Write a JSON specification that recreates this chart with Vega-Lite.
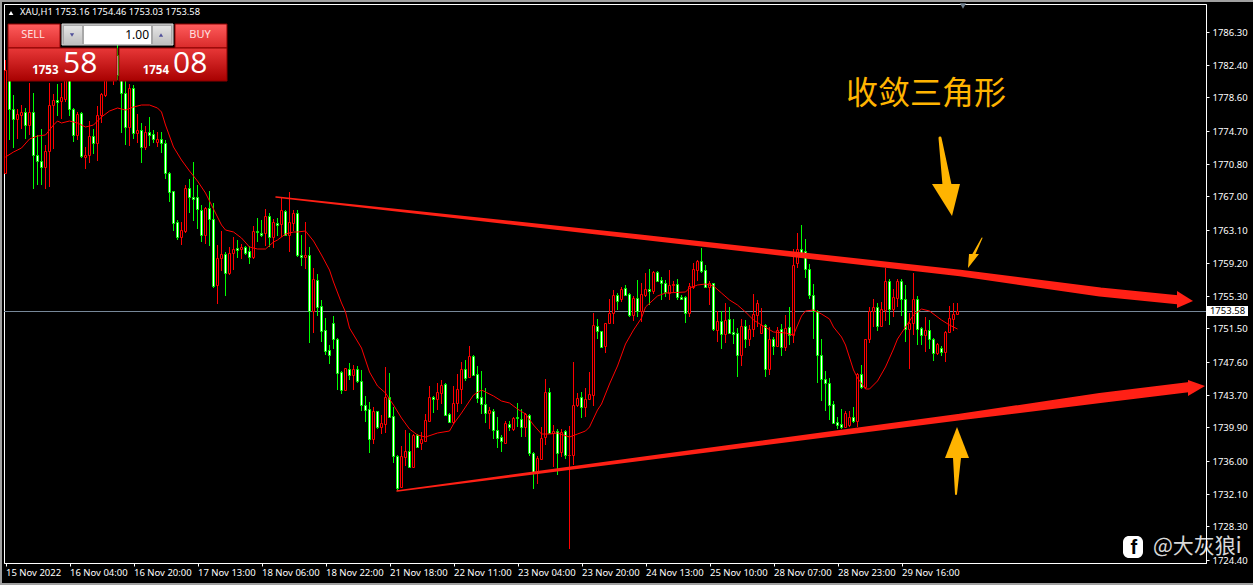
{"$schema":"https://vega.github.io/schema/vega-lite/v6.json","autosize":"none","padding":{"left":4,"top":4,"right":47,"bottom":22},"width":1202,"height":559,"background":"#000000","config":{"view":{"stroke":"#ffffff","strokeWidth":1,"fill":"#000000"},"font":"Noto Sans"},
"datasets":{"candles":[
{"i":0,"o":1769.76,"h":1783,"l":1769.76,"c":1781.8},{"i":1,"o":1781.8,"h":1783,"l":1773.59,"c":1777.26},{"i":2,"o":1777.26,"h":1778.87,"l":1772.65,"c":1776.02},{"i":3,"o":1776.09,"h":1777.19,"l":1773.67,"c":1776.6},{"i":4,"o":1776.56,"h":1777.66,"l":1774.92,"c":1776.84},{"i":5,"o":1776.84,"h":1777.34,"l":1773.67,"c":1775.31},{"i":6,"o":1775.31,"h":1780.24,"l":1774.14,"c":1776.84},{"i":7,"o":1776.84,"h":1779.07,"l":1767.88,"c":1771.8},{"i":8,"o":1771.8,"h":1774.18,"l":1768.35,"c":1771.1},{"i":9,"o":1771.1,"h":1774.85,"l":1768.28,"c":1770.39},
{"i":10,"o":1770.46,"h":1772.97,"l":1767.88,"c":1772.27},{"i":11,"o":1772.27,"h":1780.24,"l":1768.12,"c":1777.66},{"i":12,"o":1777.66,"h":1778.98,"l":1772.5,"c":1778.24},{"i":13,"o":1778.28,"h":1780.16,"l":1776.4,"c":1778.08},{"i":14,"o":1778.13,"h":1780.24,"l":1776.02,"c":1778.6},{"i":15,"o":1778.36,"h":1781.8,"l":1778.05,"c":1781.21},{"i":16,"o":1781.8,"h":1782.97,"l":1776.4,"c":1777.26},{"i":17,"o":1777.19,"h":1777.34,"l":1773.36,"c":1774.21},{"i":18,"o":1774.21,"h":1776.91,"l":1773.59,"c":1776.64},{"i":19,"o":1776.72,"h":1776.87,"l":1771.48,"c":1771.72},
{"i":20,"o":1771.6,"h":1772.81,"l":1770.23,"c":1771.8},{"i":21,"o":1771.8,"h":1775.78,"l":1770.86,"c":1774.06},{"i":22,"o":1774.06,"h":1774.85,"l":1771.95,"c":1773.28},{"i":23,"o":1773.28,"h":1777.58,"l":1771.17,"c":1776.49},{"i":24,"o":1776.56,"h":1779.07,"l":1775.62,"c":1778.98},{"i":25,"o":1778.9,"h":1782.03,"l":1778.6,"c":1781.21},{"i":26,"o":1781.21,"h":1784.14,"l":1780.62,"c":1783.55},{"i":27,"o":1780.86,"h":1784.14,"l":1780.04,"c":1782.97},{"i":28,"o":1783.55,"h":1784.73,"l":1780.62,"c":1781.21},{"i":29,"o":1781.8,"h":1782.97,"l":1774.45,"c":1779.07},
{"i":30,"o":1779.07,"h":1780.62,"l":1773.04,"c":1775.15},{"i":31,"o":1775.15,"h":1780.16,"l":1772.89,"c":1779.69},{"i":32,"o":1779.69,"h":1780.04,"l":1773.67,"c":1774.45},{"i":33,"o":1774.45,"h":1776.64,"l":1773.21,"c":1774.76},{"i":34,"o":1774.76,"h":1775.62,"l":1770.86,"c":1772.81},{"i":35,"o":1772.81,"h":1775.23,"l":1772.42,"c":1774.53},{"i":36,"o":1774.53,"h":1776.32,"l":1772.89,"c":1774.21},{"i":37,"o":1774.3,"h":1774.76,"l":1773.28,"c":1773.74},{"i":38,"o":1773.39,"h":1774.56,"l":1772.74,"c":1773.67},{"i":39,"o":1773.71,"h":1774.56,"l":1772.07,"c":1773.21},
{"i":40,"o":1773.21,"h":1773.59,"l":1769.06,"c":1769.69},{"i":41,"o":1769.69,"h":1769.84,"l":1766.33,"c":1767.46},{"i":42,"o":1767.58,"h":1767.61,"l":1762.96,"c":1763.83},{"i":43,"o":1763.98,"h":1764.22,"l":1761.87,"c":1762.26},{"i":44,"o":1762.19,"h":1763.98,"l":1761.32,"c":1763.04},{"i":45,"o":1762.89,"h":1768.32,"l":1762.66,"c":1767.97},{"i":46,"o":1767.93,"h":1769.02,"l":1765.07,"c":1766.88},{"i":47,"o":1766.91,"h":1771.01,"l":1764.06,"c":1766.71},{"i":48,"o":1766.88,"h":1768.32,"l":1763.2,"c":1765.47},{"i":49,"o":1765.39,"h":1765.97,"l":1761.64,"c":1762.49},
{"i":50,"o":1762.49,"h":1765.77,"l":1761.4,"c":1765.62},{"i":51,"o":1765.59,"h":1767.58,"l":1761.17,"c":1764.3},{"i":52,"o":1764.3,"h":1766.17,"l":1756.25,"c":1756.48},{"i":53,"o":1756.56,"h":1761.29,"l":1754.37,"c":1759.73},{"i":54,"o":1759.73,"h":1762.89,"l":1758.2,"c":1760.2},{"i":55,"o":1760.23,"h":1760.47,"l":1755.31,"c":1758.04},{"i":56,"o":1758.04,"h":1761.09,"l":1757.73,"c":1760.31},{"i":57,"o":1760.31,"h":1762.26,"l":1758.36,"c":1760.78},{"i":58,"o":1760.9,"h":1761.87,"l":1759.76,"c":1760.74},{"i":59,"o":1760.78,"h":1761.4,"l":1759.68,"c":1761.02},
{"i":60,"o":1761.02,"h":1761.17,"l":1760.15,"c":1760.31},{"i":61,"o":1760.55,"h":1761.17,"l":1759.06,"c":1759.91},{"i":62,"o":1759.91,"h":1763.51,"l":1759.68,"c":1762.89},{"i":63,"o":1762.89,"h":1764.42,"l":1761.64,"c":1762.77},{"i":64,"o":1762.66,"h":1764.22,"l":1762.19,"c":1762.49},{"i":65,"o":1762.66,"h":1765.47,"l":1761.17,"c":1764.68},{"i":66,"o":1764.68,"h":1765,"l":1761.09,"c":1762.26},{"i":67,"o":1762.26,"h":1764.3,"l":1760.93,"c":1763.98},{"i":68,"o":1763.83,"h":1764.45,"l":1762.34,"c":1763.67},{"i":69,"o":1763.75,"h":1766.88,"l":1762.19,"c":1765.39},
{"i":70,"o":1765.24,"h":1765.39,"l":1762.34,"c":1762.49},{"i":71,"o":1762.49,"h":1767.5,"l":1760.47,"c":1763.98},{"i":72,"o":1763.9,"h":1765.39,"l":1762.89,"c":1765},{"i":73,"o":1765,"h":1765.39,"l":1759.91,"c":1760.15},{"i":74,"o":1760.08,"h":1762.46,"l":1758.82,"c":1759.84},{"i":75,"o":1759.84,"h":1763.98,"l":1758.51,"c":1760.08},{"i":76,"o":1760.08,"h":1761.02,"l":1749.84,"c":1753.52},{"i":77,"o":1753.52,"h":1758.59,"l":1751.01,"c":1757.27},{"i":78,"o":1757.18,"h":1757.89,"l":1752.96,"c":1754.05},{"i":79,"o":1754.14,"h":1754.84,"l":1749.92,"c":1751.17},
{"i":80,"o":1751.32,"h":1752.73,"l":1748.43,"c":1748.9},{"i":81,"o":1748.98,"h":1749.53,"l":1747.34,"c":1748.36},{"i":82,"o":1752.11,"h":1752.96,"l":1749.13,"c":1750.23},{"i":83,"o":1750.23,"h":1750.39,"l":1744.29,"c":1746.25},{"i":84,"o":1746.4,"h":1746.52,"l":1743.82,"c":1744.29},{"i":85,"o":1744.29,"h":1746.87,"l":1744.14,"c":1746.84},{"i":86,"o":1746.72,"h":1747.42,"l":1745.46,"c":1746.02},{"i":87,"o":1746.09,"h":1747.19,"l":1744.29,"c":1746.72},{"i":88,"o":1746.72,"h":1747.1,"l":1745.08,"c":1745.38},{"i":89,"o":1745.31,"h":1746.64,"l":1741.87,"c":1742.57},
{"i":90,"o":1742.5,"h":1743.59,"l":1740.54,"c":1741.95},{"i":91,"o":1742.03,"h":1742.89,"l":1736.94,"c":1738.51},{"i":92,"o":1738.51,"h":1742.26,"l":1737.96,"c":1741.8},{"i":93,"o":1741.8,"h":1741.83,"l":1739.76,"c":1739.99},{"i":94,"o":1739.99,"h":1741.4,"l":1739.14,"c":1740.39},{"i":95,"o":1740.31,"h":1746.95,"l":1739.29,"c":1743.44},{"i":96,"o":1743.44,"h":1746.25,"l":1741.01,"c":1741.16},{"i":97,"o":1741.24,"h":1742.3,"l":1735.77,"c":1736.56},{"i":98,"o":1736.56,"h":1736.67,"l":1732.49,"c":1732.81},{"i":99,"o":1732.89,"h":1737.73,"l":1732.81,"c":1736.56},
{"i":100,"o":1736.48,"h":1739.6,"l":1735.38,"c":1737.11},{"i":101,"o":1737.11,"h":1739.22,"l":1735.3,"c":1735.3},{"i":102,"o":1735.3,"h":1739.14,"l":1735.3,"c":1739.05},{"i":103,"o":1738.98,"h":1739.14,"l":1737.58,"c":1737.65},{"i":104,"o":1738.12,"h":1739.37,"l":1737.26,"c":1738.51},{"i":105,"o":1738.35,"h":1741.48,"l":1738.28,"c":1740.78},{"i":106,"o":1740.62,"h":1744.76,"l":1740.54,"c":1743.44},{"i":107,"o":1743.47,"h":1743.59,"l":1741.56,"c":1743.2},{"i":108,"o":1743.2,"h":1745.15,"l":1741.95,"c":1744.06},{"i":109,"o":1743.98,"h":1745.46,"l":1742.65,"c":1744.84},
{"i":110,"o":1744.99,"h":1745.08,"l":1741.33,"c":1741.4},{"i":111,"o":1741.44,"h":1741.56,"l":1740.46,"c":1740.54},{"i":112,"o":1740.54,"h":1744.76,"l":1740.31,"c":1742.73},{"i":113,"o":1742.8,"h":1746.17,"l":1741.71,"c":1744.37},{"i":114,"o":1744.37,"h":1747.61,"l":1742.65,"c":1746.72},{"i":115,"o":1746.72,"h":1747.81,"l":1745.38,"c":1745.7},{"i":116,"o":1745.78,"h":1749.45,"l":1745.78,"c":1748.28},{"i":117,"o":1748.28,"h":1748.39,"l":1746.02,"c":1746.09},{"i":118,"o":1746.17,"h":1747.1,"l":1742.8,"c":1743.35},{"i":119,"o":1743.51,"h":1746.55,"l":1741.48,"c":1742.65},
{"i":120,"o":1742.65,"h":1744.53,"l":1740.39,"c":1741.56},{"i":121,"o":1741.63,"h":1742.26,"l":1739.69,"c":1741.95},{"i":122,"o":1741.8,"h":1742.03,"l":1738.58,"c":1739.6},{"i":123,"o":1739.6,"h":1741.13,"l":1737.49,"c":1738.67},{"i":124,"o":1738.75,"h":1739.05,"l":1737.03,"c":1738.28},{"i":125,"o":1738.12,"h":1740.62,"l":1738.05,"c":1740.39},{"i":126,"o":1740.31,"h":1740.69,"l":1739.45,"c":1739.99},{"i":127,"o":1739.76,"h":1741.16,"l":1739.45,"c":1741.01},{"i":128,"o":1741.09,"h":1742.73,"l":1739.99,"c":1741.01},{"i":129,"o":1740.93,"h":1742.03,"l":1738.75,"c":1739.92},
{"i":130,"o":1739.99,"h":1741.63,"l":1738.82,"c":1741.48},{"i":131,"o":1741.4,"h":1741.48,"l":1736.56,"c":1736.94},{"i":132,"o":1736.94,"h":1737.03,"l":1732.65,"c":1734.68},{"i":133,"o":1734.6,"h":1736.56,"l":1733.28,"c":1736.32},{"i":134,"o":1736.24,"h":1739.99,"l":1736.17,"c":1738.67},{"i":135,"o":1738.75,"h":1745.55,"l":1737.88,"c":1744.06},{"i":136,"o":1744.06,"h":1744.53,"l":1739.22,"c":1739.29},{"i":137,"o":1739.31,"h":1740.19,"l":1735.3,"c":1739.45},{"i":138,"o":1739.45,"h":1739.76,"l":1734.37,"c":1736.94},{"i":139,"o":1737.03,"h":1739.69,"l":1736.4,"c":1739.37},
{"i":140,"o":1739.45,"h":1739.6,"l":1736.24,"c":1736.64},{"i":141,"o":1736.64,"h":1740.07,"l":1725.66,"c":1736.71},{"i":142,"o":1736.71,"h":1747.57,"l":1735.47,"c":1742.5},{"i":143,"o":1742.5,"h":1743.98,"l":1742.33,"c":1743.35},{"i":144,"o":1743.44,"h":1744.06,"l":1741.01,"c":1742.26},{"i":145,"o":1742.26,"h":1744.53,"l":1741.16,"c":1743.2},{"i":146,"o":1743.2,"h":1746.4,"l":1743.12,"c":1743.82},{"i":147,"o":1743.74,"h":1753.35,"l":1742.42,"c":1751.88},{"i":148,"o":1751.79,"h":1752.58,"l":1750.23,"c":1751.17},{"i":149,"o":1751.17,"h":1751.21,"l":1749.21,"c":1749.37},
{"i":150,"o":1749.45,"h":1752.14,"l":1748.66,"c":1752.11},{"i":151,"o":1752.11,"h":1754.92,"l":1752.09,"c":1753.28},{"i":152,"o":1753.28,"h":1756.01,"l":1752.03,"c":1755.39},{"i":153,"o":1755.39,"h":1755.63,"l":1753.67,"c":1754.76},{"i":154,"o":1754.92,"h":1756.33,"l":1754.61,"c":1756.09},{"i":155,"o":1756.21,"h":1756.63,"l":1755.39,"c":1755.46},{"i":156,"o":1755.54,"h":1755.7,"l":1752.88,"c":1753.05},{"i":157,"o":1753.05,"h":1755.31,"l":1752.41,"c":1755.07},{"i":158,"o":1755.07,"h":1757.18,"l":1752.88,"c":1753.59},{"i":159,"o":1753.59,"h":1756.8,"l":1752.26,"c":1755.54},
{"i":160,"o":1755.46,"h":1758.04,"l":1755.16,"c":1756.09},{"i":161,"o":1756.09,"h":1758.44,"l":1754.29,"c":1755.93},{"i":162,"o":1755.93,"h":1758.27,"l":1755.54,"c":1758.12},{"i":163,"o":1758.12,"h":1758.2,"l":1756.95,"c":1757.1},{"i":164,"o":1757.15,"h":1757.57,"l":1754.84,"c":1756.8},{"i":165,"o":1756.8,"h":1757.18,"l":1755.16,"c":1755.78},{"i":166,"o":1755.7,"h":1758.36,"l":1754.84,"c":1756.56},{"i":167,"o":1756.56,"h":1757.1,"l":1755.78,"c":1756.72},{"i":168,"o":1756.72,"h":1757.27,"l":1754.84,"c":1755.16},{"i":169,"o":1755.16,"h":1755.46,"l":1754.84,"c":1754.99},
{"i":170,"o":1755.16,"h":1755.31,"l":1752.18,"c":1753.35},{"i":171,"o":1753.35,"h":1756.87,"l":1752.88,"c":1756.48},{"i":172,"o":1756.4,"h":1759.21,"l":1756.16,"c":1758.44},{"i":173,"o":1758.36,"h":1759.53,"l":1757.1,"c":1759.38},{"i":174,"o":1759.38,"h":1760.93,"l":1758.04,"c":1758.27},{"i":175,"o":1758.36,"h":1758.91,"l":1756.33,"c":1756.4},{"i":176,"o":1756.4,"h":1757.03,"l":1754.22,"c":1756.8},{"i":177,"o":1756.8,"h":1756.83,"l":1751.24,"c":1751.48},{"i":178,"o":1751.32,"h":1753.52,"l":1749.92,"c":1752.34},{"i":179,"o":1752.34,"h":1753.59,"l":1749.06,"c":1750.85},
{"i":180,"o":1750.85,"h":1754.45,"l":1749.84,"c":1752.5},{"i":181,"o":1752.58,"h":1753.98,"l":1750.94,"c":1751.01},{"i":182,"o":1751.09,"h":1752.58,"l":1749.68,"c":1750.85},{"i":183,"o":1750.94,"h":1751.56,"l":1745.85,"c":1748.36},{"i":184,"o":1748.36,"h":1752.65,"l":1747.1,"c":1751.79},{"i":185,"o":1751.79,"h":1752.5,"l":1749.21,"c":1750.3},{"i":186,"o":1750.3,"h":1751.95,"l":1749.45,"c":1751.48},{"i":187,"o":1751.41,"h":1755.54,"l":1750.54,"c":1753.2},{"i":188,"o":1753.12,"h":1754.84,"l":1751.71,"c":1754.45},{"i":189,"o":1750.94,"h":1753.9,"l":1750.85,"c":1751.88},
{"i":190,"o":1751.88,"h":1752.03,"l":1745.85,"c":1746.79},{"i":191,"o":1746.79,"h":1751.71,"l":1746.08,"c":1750.23},{"i":192,"o":1750.23,"h":1750.54,"l":1748.43,"c":1749.45},{"i":193,"o":1749.45,"h":1751.64,"l":1749.37,"c":1751.32},{"i":194,"o":1751.41,"h":1752.03,"l":1748.28,"c":1749.3},{"i":195,"o":1749.37,"h":1753.05,"l":1748.83,"c":1751.56},{"i":196,"o":1751.64,"h":1753.98,"l":1749.6,"c":1750.7},{"i":197,"o":1750.7,"h":1760.82,"l":1749.84,"c":1758.98},{"i":198,"o":1759.14,"h":1762.66,"l":1758.55,"c":1760.78},{"i":199,"o":1760.78,"h":1763.59,"l":1760.31,"c":1760.38},
{"i":200,"o":1760.55,"h":1761.95,"l":1757.42,"c":1758.44},{"i":201,"o":1758.44,"h":1759.06,"l":1754.92,"c":1755.46},{"i":202,"o":1755.46,"h":1756.72,"l":1750.3,"c":1753.52},{"i":203,"o":1753.52,"h":1753.67,"l":1745.15,"c":1748.43},{"i":204,"o":1748.43,"h":1750.23,"l":1743.04,"c":1745.55},{"i":205,"o":1745.55,"h":1746.55,"l":1741.87,"c":1745.08},{"i":206,"o":1745.08,"h":1745.7,"l":1740.78,"c":1742.57},{"i":207,"o":1742.65,"h":1742.97,"l":1740.39,"c":1740.46},{"i":208,"o":1740.54,"h":1741.09,"l":1739.69,"c":1740.23},{"i":209,"o":1740.27,"h":1742.03,"l":1739.69,"c":1739.92},
{"i":210,"o":1739.92,"h":1741.8,"l":1739.84,"c":1741.56},{"i":211,"o":1740.16,"h":1741.87,"l":1739.92,"c":1741.09},{"i":212,"o":1741.09,"h":1742.34,"l":1740.39,"c":1740.69},{"i":213,"o":1740.69,"h":1746.32,"l":1739.92,"c":1746.17},{"i":214,"o":1746.17,"h":1747.19,"l":1744.37,"c":1744.68},{"i":215,"o":1744.68,"h":1750.3,"l":1744.44,"c":1750.23},{"i":216,"o":1750.23,"h":1753.98,"l":1749.84,"c":1753.59},{"i":217,"o":1753.59,"h":1754.92,"l":1751.71,"c":1753.98},{"i":218,"o":1753.98,"h":1754.45,"l":1751.24,"c":1751.79},{"i":219,"o":1751.79,"h":1754.61,"l":1751.64,"c":1753.75},
{"i":220,"o":1753.67,"h":1758.59,"l":1752.41,"c":1757.03},{"i":221,"o":1757.1,"h":1757.34,"l":1751.95,"c":1753.82},{"i":222,"o":1753.82,"h":1756.09,"l":1752.88,"c":1755.16},{"i":223,"o":1755.07,"h":1757.27,"l":1754.05,"c":1757.1},{"i":224,"o":1757.1,"h":1757.27,"l":1752.96,"c":1754.92},{"i":225,"o":1754.92,"h":1756.56,"l":1749.92,"c":1751.48},{"i":226,"o":1751.48,"h":1753.28,"l":1746.79,"c":1752.11},{"i":227,"o":1752.11,"h":1758.04,"l":1750.77,"c":1754.99},{"i":228,"o":1754.99,"h":1755.31,"l":1749.6,"c":1751.48},{"i":229,"o":1751.56,"h":1751.64,"l":1749.53,"c":1750.77},
{"i":230,"o":1750.77,"h":1752.88,"l":1748.75,"c":1751.32},{"i":231,"o":1751.32,"h":1752.5,"l":1749.06,"c":1750.23},{"i":232,"o":1750.23,"h":1750.39,"l":1747.73,"c":1748.59},{"i":233,"o":1748.59,"h":1749.84,"l":1748.36,"c":1749.68},{"i":234,"o":1749.21,"h":1749.45,"l":1748.28,"c":1748.75},{"i":235,"o":1748.75,"h":1751.17,"l":1747.57,"c":1751.09},{"i":236,"o":1751.09,"h":1754.14,"l":1751.01,"c":1752.73},{"i":237,"o":1752.65,"h":1754.45,"l":1751.17,"c":1753.2},{"i":238,"o":1753.16,"h":1754.46,"l":1753.03,"c":1753.58}
],
"ma":[{"i":0,"p":1771.6},{"i":2,"p":1772.19},{"i":4,"p":1772.65},{"i":6,"p":1773.67},{"i":8,"p":1774.06},{"i":10,"p":1774.14},{"i":12,"p":1775.39},{"i":13,"p":1775.78},{"i":14,"p":1775.62},{"i":16,"p":1775.78},{"i":18,"p":1775.62},{"i":20,"p":1775.08},{"i":22,"p":1775.31},{"i":24,"p":1776.32},{"i":26,"p":1776.96},{"i":28,"p":1777.38},{"i":30,"p":1777.11},{"i":32,"p":1777.42},{"i":34,"p":1777.66},{"i":36,"p":1777.73},{"i":38,"p":1777.34},{"i":39,"p":1776.87},{"i":40,"p":1775.35},{"i":42,"p":1772.77},{"i":44,"p":1771.25},{"i":46,"p":1769.96},{"i":48,"p":1768.79},{"i":50,"p":1767.38},{"i":52,"p":1765.5},{"i":54,"p":1763.63},{"i":55,"p":1763.04},{"i":57,"p":1762.81},{"i":59,"p":1762.11},{"i":61,"p":1761.09},{"i":63,"p":1760.82},{"i":65,"p":1760.78},{"i":67,"p":1761.64},{"i":68,"p":1761.87},{"i":70,"p":1762.58},{"i":72,"p":1762.81},{"i":73,"p":1762.77},{"i":75,"p":1762.89},{"i":77,"p":1761.75},{"i":79,"p":1760.11},{"i":81,"p":1758.36},{"i":82,"p":1756.95},{"i":84,"p":1754.49},{"i":85,"p":1753.43},{"i":86,"p":1751.56},{"i":89,"p":1749.21},{"i":90,"p":1747.81},{"i":91,"p":1746.4},{"i":93,"p":1744.76},{"i":95,"p":1743.94},{"i":97,"p":1742.53},{"i":99,"p":1741.01},{"i":101,"p":1739.72},{"i":103,"p":1739.02},{"i":105,"p":1738.78},{"i":108,"p":1739.25},{"i":111,"p":1739.49},{"i":112,"p":1740.31},{"i":114,"p":1741.6},{"i":117,"p":1743.71},{"i":119,"p":1744.29},{"i":120,"p":1744.06},{"i":122,"p":1743.59},{"i":124,"p":1743},{"i":126,"p":1742.8},{"i":128,"p":1742.07},{"i":130,"p":1741.48},{"i":132,"p":1740.19},{"i":134,"p":1739.14},{"i":136,"p":1739.14},{"i":138,"p":1739.25},{"i":141,"p":1738.78},{"i":143,"p":1739.08},{"i":145,"p":1739.49},{"i":146,"p":1739.96},{"i":148,"p":1741.95},{"i":149,"p":1742.65},{"i":151,"p":1745},{"i":153,"p":1747.1},{"i":155,"p":1749.68},{"i":157,"p":1751.32},{"i":159,"p":1752.73},{"i":160,"p":1754.02},{"i":163,"p":1755.31},{"i":165,"p":1755.7},{"i":170,"p":1755.74},{"i":171,"p":1756.25},{"i":173,"p":1756.6},{"i":175,"p":1756.68},{"i":177,"p":1756.48},{"i":179,"p":1755.66},{"i":181,"p":1754.84},{"i":183,"p":1754.25},{"i":185,"p":1753.43},{"i":187,"p":1752.5},{"i":189,"p":1751.91},{"i":192,"p":1751.12},{"i":195,"p":1751.01},{"i":197,"p":1750.74},{"i":199,"p":1752.97},{"i":200,"p":1753.55},{"i":202,"p":1753.67},{"i":204,"p":1753.2},{"i":206,"p":1752.61},{"i":207,"p":1751.68},{"i":209,"p":1750.5},{"i":210,"p":1749.57},{"i":212,"p":1746.64},{"i":213,"p":1745.7},{"i":215,"p":1744.41},{"i":216,"p":1744.37},{"i":218,"p":1745.35},{"i":220,"p":1746.99},{"i":222,"p":1749.1},{"i":223,"p":1750.27},{"i":225,"p":1751.68},{"i":227,"p":1753.08},{"i":229,"p":1753.75},{"i":231,"p":1753.59},{"i":234,"p":1752.5},{"i":236,"p":1751.91},{"i":238,"p":1751.44}],
"trend":[{"id":"u","n":0,"i":67.625,"p":1766.91,"w":1.5},{"id":"u","n":1,"i":158.625,"p":1762.19,"w":5},{"id":"u","n":2,"i":238.625,"p":1757.97,"w":6.5},{"id":"u","n":3,"i":273.625,"p":1755.72,"w":9},{"id":"u","n":4,"i":293.625,"p":1754.84,"w":9},{"id":"l","n":0,"i":97.875,"p":1732.45,"w":1.5},{"id":"l","n":1,"i":158.625,"p":1736.17,"w":4},{"id":"l","n":2,"i":238.625,"p":1741.16,"w":6.5},{"id":"l","n":3,"i":273.625,"p":1743.3,"w":10},{"id":"l","n":4,"i":296.125,"p":1744.59,"w":10}],
"trendHead":[{"id":"uh","i":292.875,"p":1755.85,"p2":1753.91},{"id":"uh","i":296.875,"p":1754.67,"p2":1754.67},{"id":"lh","i":295.625,"p":1745.46,"p2":1743.59},{"id":"lh","i":299.875,"p":1744.78,"p2":1744.78}],
"gold":[{"id":"a","n":0,"i":233.625,"p":1773.83,"w":3},{"id":"a","n":1,"i":235.375,"p":1768.32,"w":9},{"id":"b","n":0,"i":237.625,"p":1732.1,"w":2},{"id":"b","n":1,"i":237.875,"p":1736.32,"w":8},{"id":"c","n":0,"i":244.125,"p":1762.11,"w":1},{"id":"c","n":1,"i":241.875,"p":1760,"w":3}],
"goldHead":[{"id":"ah","i":231.625,"i2":238.625,"p":1768.44},{"id":"ah","i":236.625,"i2":236.625,"p":1764.68},{"id":"bh","i":234.875,"i2":240.875,"p":1736.32},{"id":"bh","i":237.875,"i2":237.875,"p":1739.96},{"id":"ch","i":240.875,"i2":243.375,"p":1760.23},{"id":"ch","i":240.625,"i2":240.625,"p":1758.59}]},
"encoding":{"x":{"field":"i","type":"quantitative","title":null,"scale":{"domain":[-0.375,300.125],"nice":false,"zero":false,"padding":0},"axis":{"values":[0,16,32,48,64,80,96,112,128,144,160,176,192,208,224],"labelExpr":"['15 Nov 2022','16 Nov 04:00','16 Nov 20:00','17 Nov 13:00','18 Nov 06:00','18 Nov 22:00','21 Nov 18:00','22 Nov 11:00','23 Nov 04:00','23 Nov 20:00','24 Nov 13:00','25 Nov 10:00','28 Nov 07:00','28 Nov 23:00','29 Nov 16:00'][datum.value/16]","title":null,"grid":false,"domainColor":"#ffffff","tickColor":"#ffffff","tickSize":3,"labelColor":"#ffffff","labelFont":"Noto Sans","labelFontSize":9.5,"labelAlign":"left","labelPadding":1,"labelOverlap":false,"labelBound":false,"labelFlush":false}},
"y":{"field":"p","type":"quantitative","title":null,"scale":{"domain":[1724.0164,1789.5312],"nice":false,"zero":false,"round":true},"axis":{"orient":"right","values":[1786.3,1782.4,1778.6,1774.7,1770.8,1767,1763.1,1759.2,1755.3,1751.5,1747.6,1743.7,1739.9,1736,1732.1,1728.3,1724.4],"format":".2f","title":null,"grid":false,"domainColor":"#ffffff","tickColor":"#ffffff","tickSize":3,"labelColor":"#ffffff","labelFont":"Noto Sans","labelFontSize":9.5,"labelPadding":3,"labelOverlap":false,"labelBound":false}}},
"layer":[
{"data":{"values":[{"i":-1.375,"i2":-0.875,"p":1790,"p2":1721.44},{"i":-1.375,"i2":311.875,"p":1790,"p2":1789.82},{"i":-1.375,"i2":311.875,"p":1721.67,"p2":1721.44}]},"mark":{"type":"rect","fill":"#a0a0a0"},"encoding":{"x2":{"field":"i2"},"y2":{"field":"p2"}}},
{"data":{"values":[{"i":-0.375,"i2":300.125,"p":1753.58}]},"mark":{"type":"rule","color":"#778899","strokeWidth":1,"yOffset":0.5},"encoding":{"x2":{"field":"i2"}}},
{"data":{"name":"candles"},"mark":{"type":"rule","strokeWidth":1},"encoding":{"y":{"field":"l","type":"quantitative","title":null},"y2":{"field":"h"},"color":{"condition":{"test":"datum.c>=datum.o","value":"#ff0000"},"value":"#00ff00"}}},
{"data":{"name":"candles"},"mark":{"type":"bar","orient":"vertical","size":2,"strokeWidth":1,"yOffset":0.5,"y2Offset":0.5},"encoding":{"y":{"field":"o","type":"quantitative","title":null},"y2":{"field":"c"},"fill":{"condition":{"test":"datum.c>=datum.o","value":"#000000"},"value":"#ffffff"},"stroke":{"condition":{"test":"datum.c>=datum.o","value":"#ff0000"},"value":"#00ff00"}}},
{"data":{"name":"ma"},"mark":{"type":"line","color":"#ff0000","strokeWidth":1}},
{"data":{"name":"trend"},"mark":{"type":"trail","color":"#ff2015"},"encoding":{"size":{"field":"w","type":"quantitative","scale":null,"legend":null},"detail":{"field":"id"},"order":{"field":"n"}}},
{"data":{"name":"trendHead"},"mark":{"type":"area","orient":"vertical","color":"#ff2015"},"encoding":{"y2":{"field":"p2"},"detail":{"field":"id"}}},
{"data":{"name":"gold"},"mark":{"type":"trail","color":"#ffb400"},"encoding":{"size":{"field":"w","type":"quantitative","scale":null,"legend":null},"detail":{"field":"id"},"order":{"field":"n"}}},
{"data":{"name":"goldHead"},"mark":{"type":"area","orient":"horizontal","color":"#ffb400"},"encoding":{"x2":{"field":"i2"},"detail":{"field":"id"}}},
{"data":{"values":[{"t":"收敛三角形","i":230.125,"p":1778.98}]},"mark":{"type":"text","font":"Noto Sans CJK SC","fontSize":32,"color":"#ffb400","align":"center","baseline":"middle"},"encoding":{"text":{"field":"t"}}},
{"data":{"values":[{"i":0.625,"i2":13.625,"p":1787.19,"p2":1784.37},{"i":42.375,"i2":55.375,"p":1787.19,"p2":1784.37}]},"mark":{"type":"rect","stroke":"#8a0000","strokeWidth":1,"fill":{"gradient":"linear","x1":0,"y1":0,"x2":0,"y2":1,"stops":[{"offset":0,"color":"#ff5c5c"},{"offset":1,"color":"#d92a2a"}]}},"encoding":{"x2":{"field":"i2"},"y2":{"field":"p2"}}},
{"data":{"values":[{"i":0.625,"i2":27.875,"p":1784.37,"p2":1780.51},{"i":28.375,"i2":55.375,"p":1784.37,"p2":1780.51}]},"mark":{"type":"rect","stroke":"#8a0000","strokeWidth":1,"fill":{"gradient":"linear","x1":0,"y1":0,"x2":0,"y2":1,"stops":[{"offset":0,"color":"#e83838"},{"offset":1,"color":"#a80000"}]}},"encoding":{"x2":{"field":"i2"},"y2":{"field":"p2"}}},
{"data":{"values":[{"i":1.625,"i2":12.625,"p":1784.55,"p2":1784.45},{"i":43.375,"i2":54.375,"p":1784.55,"p2":1784.45}]},"mark":{"type":"rect","fill":"#ffb0b0"},"encoding":{"x2":{"field":"i2"},"y2":{"field":"p2"}}},
{"data":{"values":[{"i":14.125,"i2":41.875,"p":1787.19,"p2":1784.67}]},"mark":{"type":"rect","fill":"#a8a8a8","stroke":"#d8d8d8"},"encoding":{"x2":{"field":"i2"},"y2":{"field":"p2"}}},
{"data":{"values":[{"i":19.625,"i2":36.375,"p":1787.0,"p2":1784.8}]},"mark":{"type":"rect","fill":"#ffffff"},"encoding":{"x2":{"field":"i2"},"y2":{"field":"p2"}}},
{"data":{"values":[{"i":14.625,"i2":19.125,"p":1787,"p2":1784.8},{"i":36.875,"i2":41.375,"p":1787,"p2":1784.8}]},"mark":{"type":"rect","fill":{"gradient":"linear","x1":0,"y1":0,"x2":0,"y2":1,"stops":[{"offset":0,"color":"#e4e4e4"},{"offset":1,"color":"#c0c0c0"}]}},"encoding":{"x2":{"field":"i2"},"y2":{"field":"p2"}}},
{"data":{"values":[{"i":16.625,"p":1785.9}]},"mark":{"type":"point","shape":"triangle-down","filled":true,"size":18,"color":"#50509a","opacity":1}},
{"data":{"values":[{"i":38.875,"p":1785.9}]},"mark":{"type":"point","shape":"triangle-up","filled":true,"size":18,"color":"#50509a","opacity":1}},
{"data":{"values":[{"i":1.375,"p":1788.48}]},"mark":{"type":"point","shape":"triangle-up","filled":true,"size":22,"color":"#ffffff","opacity":1}},
{"data":{"values":[{"i":239.375,"p":1789.3}]},"mark":{"type":"point","shape":"triangle-down","filled":true,"size":40,"color":"#708090","opacity":1}},
{"data":{"values":[{"t":"XAU,H1   1753.16 1754.46 1753.03 1753.58","i":3.625,"p":1788.535}]},"mark":{"type":"text","font":"Noto Sans","fontSize":9.3,"color":"#ffffff","align":"left","baseline":"middle"},"encoding":{"text":{"field":"t"}}},
{"data":{"values":[{"t":"SELL","i":6.875,"p":1785.9},{"t":"BUY","i":48.625,"p":1785.9}]},"mark":{"type":"text","font":"Noto Sans","fontSize":11,"color":"#ffe0e0","align":"center","baseline":"middle"},"encoding":{"text":{"field":"t"}}},
{"data":{"values":[{"t":"1.00","i":35.875,"p":1785.9}]},"mark":{"type":"text","font":"Noto Sans","fontSize":12,"color":"#000000","align":"right","baseline":"middle"},"encoding":{"text":{"field":"t"}}},
{"data":{"values":[{"t":"1753","i":13.25,"p":1781.68},{"t":"1754","i":40.875,"p":1781.68}]},"mark":{"type":"text","font":"Noto Sans","fontSize":11.5,"fontWeight":"bold","color":"#ffffff","align":"right","baseline":"middle"},"encoding":{"text":{"field":"t"}}},
{"data":{"values":[{"t":"58","i":14.375,"p":1782.5},{"t":"08","i":41.875,"p":1782.5}]},"mark":{"type":"text","font":"Open Sans","fontSize":30,"color":"#ffffff","align":"left","baseline":"middle"},"encoding":{"text":{"field":"t"}}},
{"data":{"values":[{"i":300.375,"i2":310.625,"p":1754.14,"p2":1752.97}]},"mark":{"type":"rect","fill":"#ffffff"},"encoding":{"x2":{"field":"i2"},"y2":{"field":"p2"}}},
{"data":{"values":[{"t":"1753.58","i":305.5,"p":1753.55}]},"mark":{"type":"text","font":"Noto Sans","fontSize":9.5,"color":"#000000","align":"center","baseline":"middle"},"encoding":{"text":{"field":"t"}}},
{"data":{"values":[{"i":279.375,"i2":284.375,"p":1727.18,"p2":1724.6}]},"mark":{"type":"rect","fill":"#ffffff","cornerRadius":6},"encoding":{"x2":{"field":"i2"},"y2":{"field":"p2"}}},
{"data":{"values":[{"t":"f","i":282.1,"p":1725.8}]},"mark":{"type":"text","font":"Liberation Sans","fontSize":20,"fontWeight":"bold","color":"#000000","align":"center","baseline":"middle"},"encoding":{"text":{"field":"t"}}},
{"data":{"values":[{"t":"@大灰狼i","i":286.875,"p":1725.89}]},"mark":{"type":"text","font":"Noto Sans CJK SC","fontSize":21,"color":"#ffffff","opacity":0.85,"align":"left","baseline":"middle"},"encoding":{"text":{"field":"t"}}}
]}
